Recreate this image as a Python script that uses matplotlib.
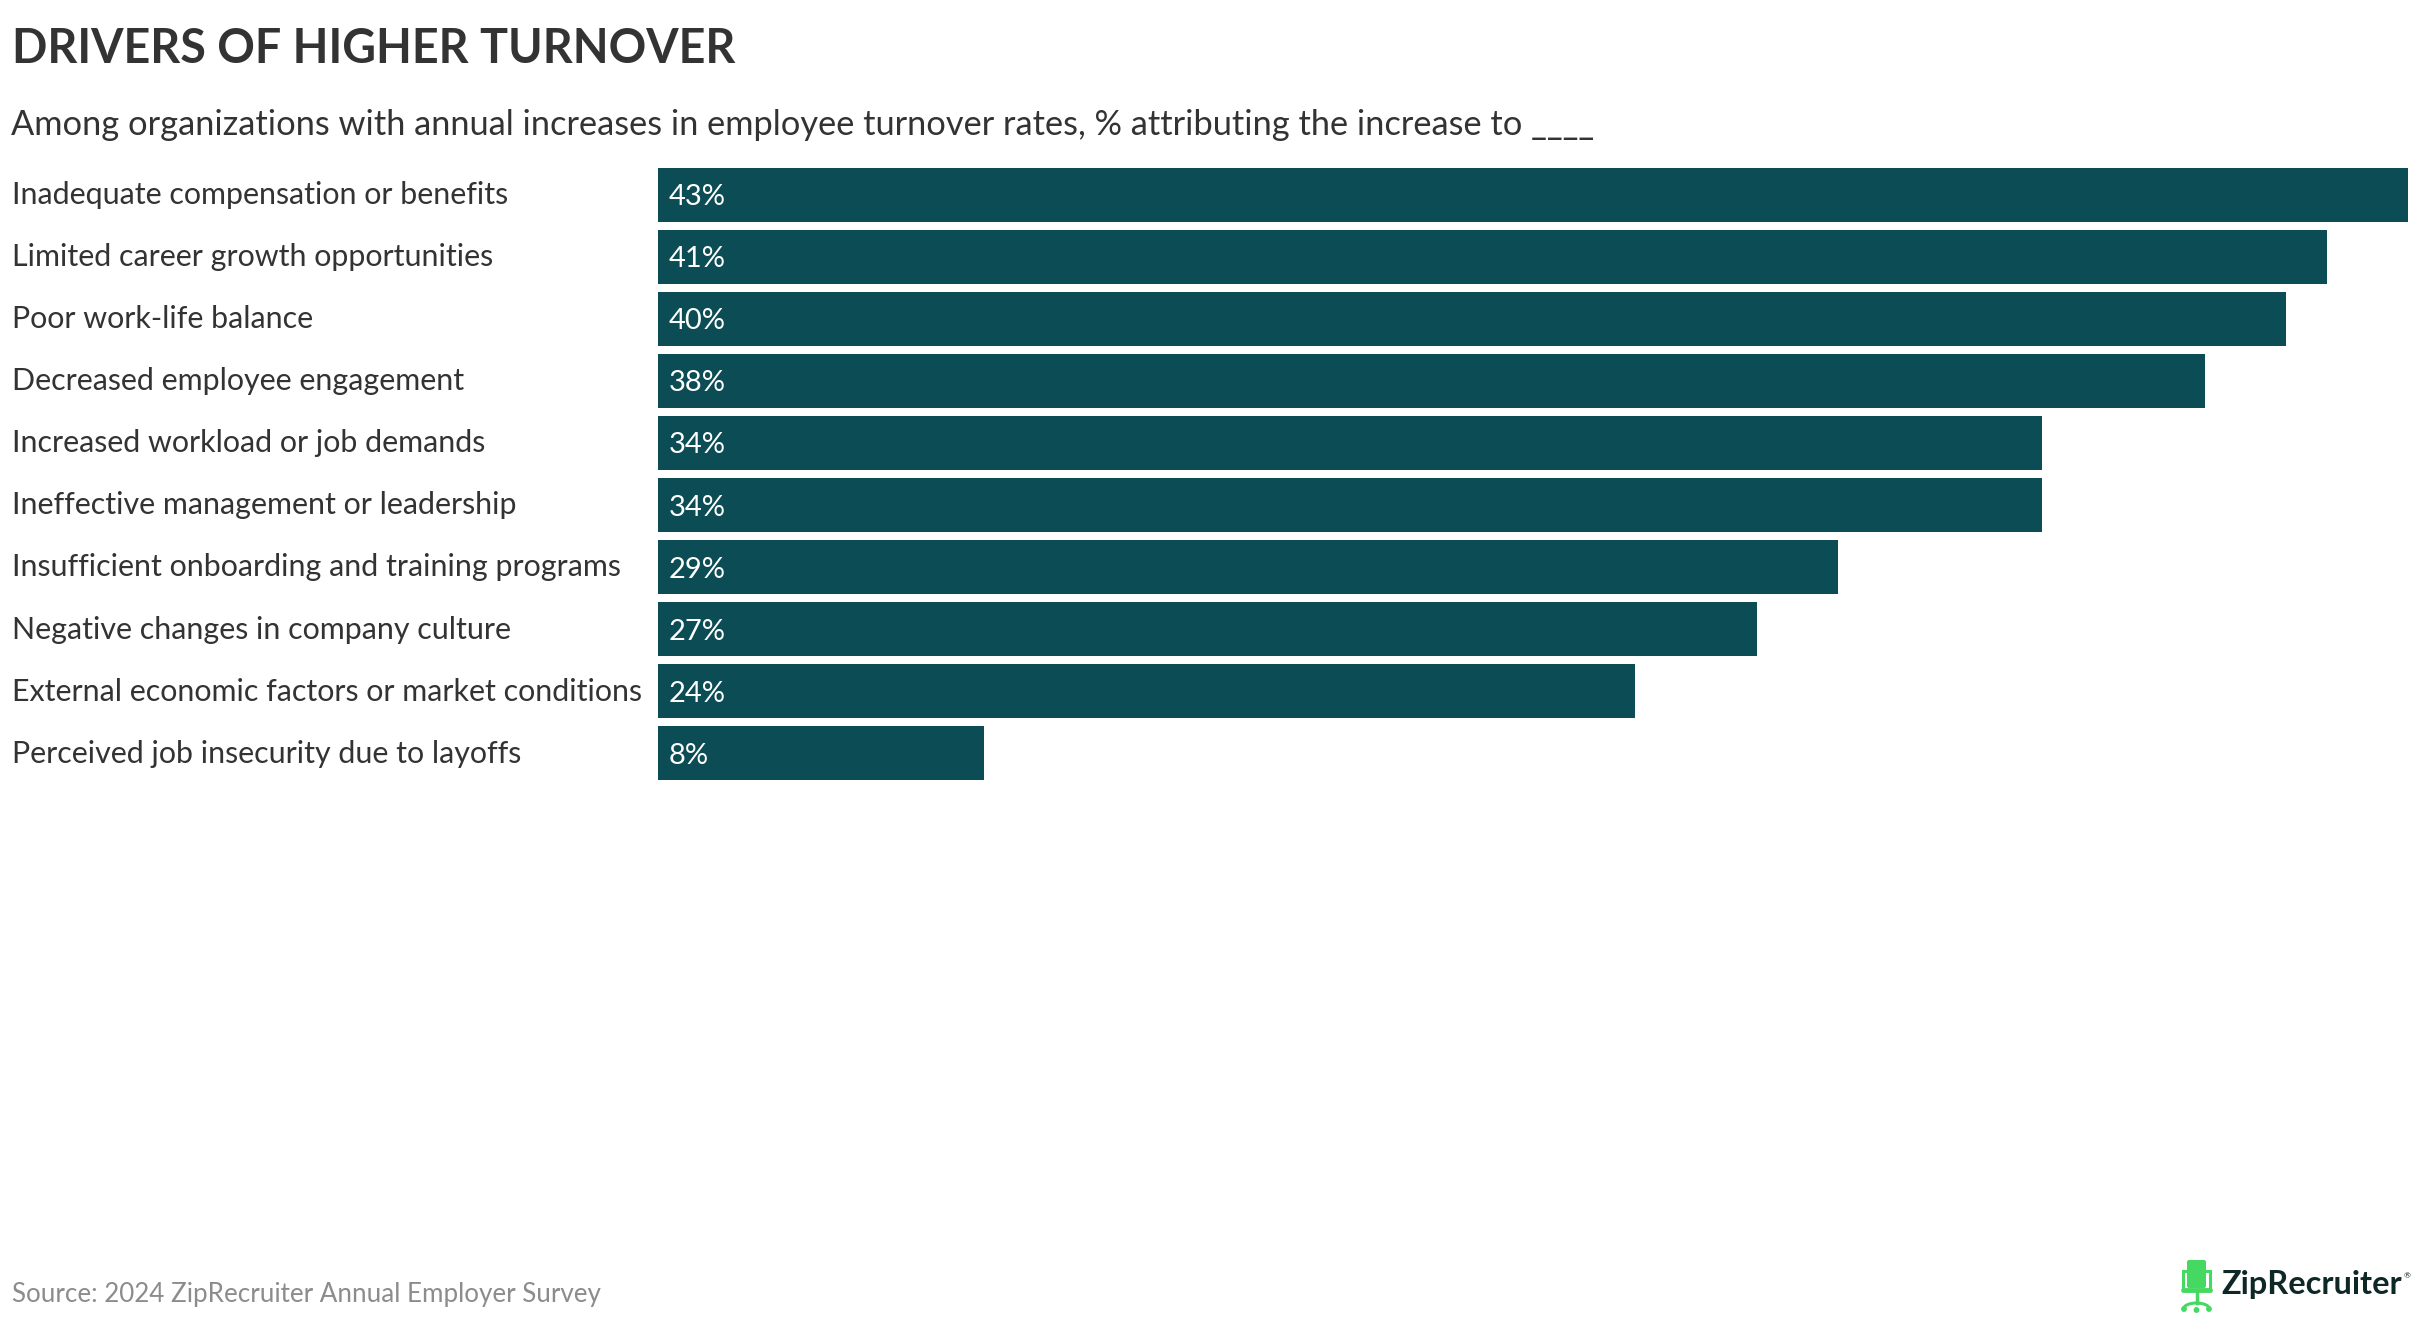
import matplotlib
matplotlib.use('Agg')
import matplotlib.pyplot as plt
from matplotlib import transforms
from matplotlib.patches import FancyBboxPatch, Circle, Arc

categories = [
    "Inadequate compensation or benefits",
    "Limited career growth opportunities",
    "Poor work-life balance",
    "Decreased employee engagement",
    "Increased workload or job demands",
    "Ineffective management or leadership",
    "Insufficient onboarding and training programs",
    "Negative changes in company culture",
    "External economic factors or market conditions",
    "Perceived job insecurity due to layoffs",
]
values = [43, 41, 40, 38, 34, 34, 29, 27, 24, 8]
value_labels = [f"{v}%" for v in values]

title = "DRIVERS OF HIGHER TURNOVER"
subtitle = ("Among organizations with annual increases in employee turnover rates, "
            "% attributing the increase to ____")
source = "Source: 2024 ZipRecruiter Annual Employer Survey"

plt.rcParams['font.family'] = ['Lato', 'DejaVu Sans']

W, H = 2420, 1320
fig = plt.figure(figsize=(W / 100, H / 100), dpi=100)
fig.patch.set_facecolor('white')


def fx(px):
    return px / W


def fy(py):
    return 1 - py / H


TEXT = '#333333'
BAR = '#0b4c55'

# Bars
ax = fig.add_axes([fx(658), fy(780), fx(2408) - fx(658), fy(168) - fy(780)])
n = len(values)
h = 53.7 / 62
ypos = list(range(n))
ax.barh(ypos, values, height=h, color=BAR, linewidth=0)
ax.set_xlim(0, max(values))
ax.set_ylim(n - 1 + h / 2, -h / 2)
ax.axis('off')

lab_fs = 21.9
val_fs = 21
tr_lab = transforms.offset_copy(
    transforms.blended_transform_factory(fig.transFigure, ax.transData),
    fig=fig, x=0, y=-0.31 * lab_fs, units='points')
tr_val = transforms.offset_copy(ax.transData, fig=fig, x=8, y=-0.36 * val_fs,
                                units='points')
for i, (c, v, vl) in enumerate(zip(categories, values, value_labels)):
    ax.text(fx(12), i, c, transform=tr_lab, ha='left', va='baseline',
            fontsize=lab_fs, color=TEXT)
    ax.text(0, i, vl, transform=tr_val, ha='left', va='baseline',
            fontsize=val_fs, color='white')

# Title, subtitle, source
fig.text(fx(12), fy(63), title, fontsize=33.6, fontweight='bold', color=TEXT,
         ha='left', va='baseline')
fig.text(fx(11), fy(135), subtitle, fontsize=24.75, color=TEXT,
         ha='left', va='baseline')
fig.text(fx(12), fy(1302), source, fontsize=18.7, color='#8c8c8c',
         ha='left', va='baseline')

# Logo overlay (pixel coordinates)
lx = fig.add_axes([0, 0, 1, 1], zorder=5)
lx.set_xlim(0, W)
lx.set_ylim(H, 0)
lx.axis('off')
lx.patch.set_alpha(0)
G = '#46d961'
lx.add_patch(FancyBboxPatch((2187, 1260), 19, 28, boxstyle='round,pad=0,rounding_size=2',
                            facecolor=G, edgecolor='none'))
lx.plot([2183, 2183], [1271, 1290], color=G, lw=2.2, solid_capstyle='round')
lx.plot([2210, 2210], [1271, 1290], color=G, lw=2.2, solid_capstyle='round')
lx.plot([2183, 2187], [1271, 1271], color=G, lw=2.2)
lx.plot([2206, 2210], [1271, 1271], color=G, lw=2.2)
lx.plot([2183, 2210], [1290, 1290], color=G, lw=3.5, solid_capstyle='round')
lx.plot([2196.5, 2196.5], [1290, 1303], color=G, lw=2.5)
lx.add_patch(Arc((2196.5, 1309), 26, 12, theta1=180, theta2=360, color=G, lw=2.2))
for cx, cy in [(2184, 1309), (2196.5, 1310), (2209, 1309)]:
    lx.add_patch(Circle((cx, cy), 2.2, color=G))

logo = lx.text(2221, 1294, "ZipRecruiter", fontsize=25, fontweight='bold',
               color='#0e2828', ha='left', va='baseline')
fig.canvas.draw()
bb = logo.get_window_extent()
target = 2402 - 2221
logo.set_fontsize(25 * target / bb.width)
lx.text(2404, 1278, "®", fontsize=6, color='#0e2828', ha='left', va='baseline')

fig.savefig('out.png', dpi=100, facecolor='white')
